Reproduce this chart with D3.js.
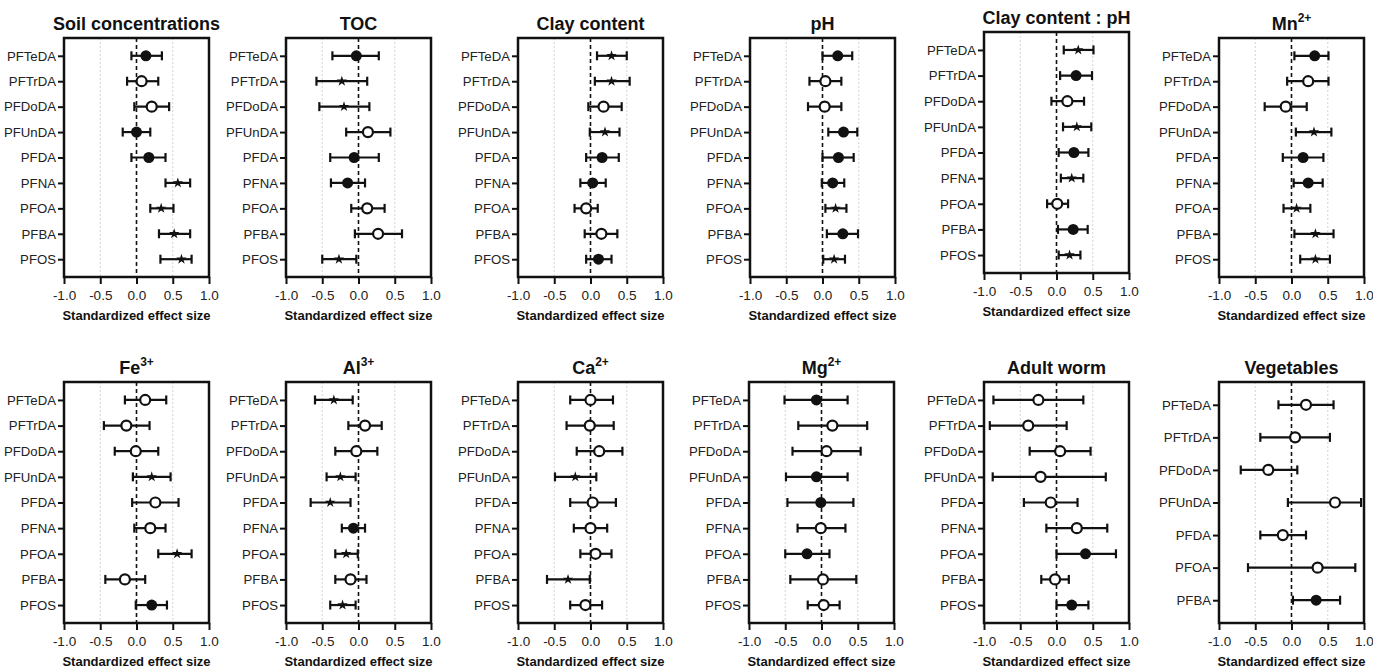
<!DOCTYPE html>
<html><head><meta charset="utf-8">
<script src="https://cdn.jsdelivr.net/npm/d3@7"></script>
<style>body{margin:0;background:#fff} svg{display:block}</style>
</head><body><svg id="c" width="1373" height="669"></svg>
<script>
// ---------- DATA ----------
const compounds = ["PFTeDA","PFTrDA","PFDoDA","PFUnDA","PFDA","PFNA","PFOA","PFBA","PFOS"];
const vegCompounds = ["PFTeDA","PFTrDA","PFDoDA","PFUnDA","PFDA","PFOA","PFBA"];
const xTicks = [-1.0, -0.5, 0.0, 0.5, 1.0];
const xLabel = "Standardized effect size";
// marker codes: F = filled circle, O = open circle, S = star

const soilMean  = [0.13, 0.07, 0.21, 0.00, 0.17, 0.57, 0.34, 0.52, 0.62];
const soilLower = [-0.07,-0.13,-0.03,-0.19,-0.07, 0.40, 0.19, 0.31, 0.33];
const soilUpper = [0.35, 0.30, 0.45, 0.19, 0.40, 0.74, 0.51, 0.74, 0.76];
const soilMarker= ["F","O","O","F","F","S","S","S","S"];

const tocMean  = [-0.03,-0.23,-0.20, 0.13,-0.06,-0.15, 0.12, 0.27,-0.27];
const tocLower = [-0.36,-0.58,-0.54,-0.17,-0.39,-0.38,-0.10,-0.05,-0.50];
const tocUpper = [0.28, 0.12, 0.15, 0.44, 0.28, 0.09, 0.36, 0.60,-0.03];
const tocMarker= ["F","S","S","O","F","F","O","O","S"];

const clayMean  = [0.29, 0.29, 0.18, 0.20, 0.16, 0.03,-0.06, 0.15, 0.11];
const clayLower = [0.09, 0.06,-0.03,-0.01,-0.06,-0.14,-0.22,-0.08,-0.06];
const clayUpper = [0.50, 0.54, 0.43, 0.40, 0.39, 0.21, 0.10, 0.37, 0.29];
const clayMarker= ["S","S","O","S","F","F","O","O","F"];

const phMean  = [0.21, 0.04, 0.03, 0.29, 0.22, 0.14, 0.18, 0.28, 0.16];
const phLower = [0.00,-0.18,-0.20, 0.08, 0.00,-0.01, 0.04, 0.06, 0.01];
const phUpper = [0.41, 0.26, 0.26, 0.48, 0.43, 0.30, 0.33, 0.49, 0.31];
const phMarker= ["F","O","O","F","F","F","S","F","S"];

const clayPhMean  = [0.30, 0.27, 0.15, 0.28, 0.24, 0.21, 0.01, 0.23, 0.18];
const clayPhLower = [0.10, 0.05,-0.07, 0.09, 0.03, 0.06,-0.13, 0.02, 0.03];
const clayPhUpper = [0.51, 0.49, 0.38, 0.48, 0.44, 0.37, 0.16, 0.43, 0.33];
const clayPhMarker= ["S","F","O","S","F","S","O","F","S"];

const mnMean  = [0.32, 0.23,-0.08, 0.31, 0.16, 0.23, 0.07, 0.33, 0.33];
const mnLower = [0.04,-0.06,-0.37, 0.06,-0.12, 0.03,-0.11, 0.04, 0.12];
const mnUpper = [0.51, 0.51, 0.21, 0.55, 0.44, 0.43, 0.26, 0.58, 0.53];
const mnMarker= ["F","O","O","S","F","F","S","S","S"];

const feMean  = [0.12,-0.14,-0.01, 0.21, 0.26, 0.19, 0.56,-0.16, 0.21];
const feLower = [-0.16,-0.45,-0.30,-0.05,-0.06,-0.03, 0.30,-0.43,-0.01];
const feUpper = [0.41, 0.18, 0.30, 0.47, 0.58, 0.40, 0.76, 0.12, 0.42];
const feMarker= ["O","O","O","S","O","O","S","O","F"];

const alMean  = [-0.34, 0.09,-0.03,-0.25,-0.39,-0.07,-0.17,-0.11,-0.22];
const alLower = [-0.60,-0.14,-0.32,-0.44,-0.66,-0.23,-0.32,-0.32,-0.39];
const alUpper = [-0.08, 0.32, 0.26,-0.04,-0.11, 0.09,-0.01, 0.11,-0.04];
const alMarker= ["S","O","O","S","S","F","S","O","S"];

const caMean  = [0.00,-0.01, 0.12,-0.21, 0.03, 0.00, 0.07,-0.31,-0.07];
const caLower = [-0.28,-0.33,-0.19,-0.49,-0.28,-0.23,-0.14,-0.60,-0.28];
const caUpper = [0.31, 0.32, 0.44, 0.08, 0.35, 0.23, 0.29,-0.01, 0.16];
const caMarker= ["O","O","O","S","O","O","O","S","O"];

const mgMean  = [-0.07, 0.15, 0.07,-0.07,-0.01,-0.01,-0.20, 0.02, 0.03];
const mgLower = [-0.51,-0.32,-0.40,-0.49,-0.47,-0.33,-0.50,-0.43,-0.19];
const mgUpper = [0.36, 0.63, 0.54, 0.36, 0.44, 0.33, 0.11, 0.48, 0.25];
const mgMarker= ["F","O","O","F","F","O","F","O","O"];

const wormMean  = [-0.25,-0.39, 0.05,-0.22,-0.08, 0.28, 0.40,-0.02, 0.21];
const wormLower = [-0.87,-0.92,-0.37,-0.88,-0.45,-0.14, 0.00,-0.21, 0.00];
const wormUpper = [0.37, 0.14, 0.47, 0.68, 0.29, 0.70, 0.82, 0.17, 0.44];
const wormMarker= ["O","O","O","O","O","O","F","O","F"];

const vegMean  = [0.20, 0.05,-0.32, 0.60,-0.12, 0.36, 0.34];
const vegLower = [-0.18,-0.43,-0.70,-0.05,-0.43,-0.60, 0.02];
const vegUpper = [0.58, 0.53, 0.08, 0.96, 0.20, 0.88, 0.67];
const vegMarker= ["O","O","O","O","O","O","F"];

const panels = [
  {title:"Soil concentrations", sup:"", cats:compounds, mean:soilMean, lower:soilLower, upper:soilUpper, marker:soilMarker},
  {title:"TOC", sup:"", cats:compounds, mean:tocMean, lower:tocLower, upper:tocUpper, marker:tocMarker},
  {title:"Clay content", sup:"", cats:compounds, mean:clayMean, lower:clayLower, upper:clayUpper, marker:clayMarker},
  {title:"pH", sup:"", cats:compounds, mean:phMean, lower:phLower, upper:phUpper, marker:phMarker},
  {title:"Clay content : pH", sup:"", cats:compounds, mean:clayPhMean, lower:clayPhLower, upper:clayPhUpper, marker:clayPhMarker},
  {title:"Mn", sup:"2+", cats:compounds, mean:mnMean, lower:mnLower, upper:mnUpper, marker:mnMarker},
  {title:"Fe", sup:"3+", cats:compounds, mean:feMean, lower:feLower, upper:feUpper, marker:feMarker},
  {title:"Al", sup:"3+", cats:compounds, mean:alMean, lower:alLower, upper:alUpper, marker:alMarker},
  {title:"Ca", sup:"2+", cats:compounds, mean:caMean, lower:caLower, upper:caUpper, marker:caMarker},
  {title:"Mg", sup:"2+", cats:compounds, mean:mgMean, lower:mgLower, upper:mgUpper, marker:mgMarker},
  {title:"Adult worm", sup:"", cats:compounds, mean:wormMean, lower:wormLower, upper:wormUpper, marker:wormMarker},
  {title:"Vegetables", sup:"", cats:vegCompounds, mean:vegMean, lower:vegLower, upper:vegUpper, marker:vegMarker}
];

// ---------- LAYOUT ----------
const lefts = [64, 286, 518, 750, 984, 1219, 64, 286, 518, 749, 984, 1219];
const boxW = 145;
const boxes = lefts.map((l, i) => {
  if (i < 6) return i === 4 ? {l, t:32, b:273} : {l, t:38, b:277};
  return {l, t:382, b:623};
});
const FONT = "'Liberation Sans', Arial, Helvetica, sans-serif";
const svg = d3.select("#c").attr("font-family", FONT);

panels.forEach((p, i) => {
  const bx = boxes[i];
  const x = d3.scaleLinear().domain([-1, 1]).range([bx.l, bx.l + boxW]);
  const y = d3.scalePoint().domain(p.cats).range([bx.t, bx.b]).padding(0.7);
  const g = svg.append("g");

  // light grid at ±0.5
  g.selectAll("line.grid").data([-0.5, 0.5]).join("line")
    .attr("x1", d => x(d)).attr("x2", d => x(d))
    .attr("y1", bx.t).attr("y2", bx.b)
    .attr("stroke", "#d4d4d4").attr("stroke-width", 1).attr("stroke-dasharray", "2,2");

  // zero dashed line
  g.append("line").attr("x1", x(0)).attr("x2", x(0)).attr("y1", bx.t).attr("y2", bx.b)
    .attr("stroke", "#111").attr("stroke-width", 1.6).attr("stroke-dasharray", "4,3");

  const rows = p.cats.map((c, k) => ({c, m:p.mean[k], lo:p.lower[k], hi:p.upper[k], mk:p.marker[k]}));

  // error bars
  const eb = g.selectAll("g.eb").data(rows).join("g");
  eb.append("line").attr("x1", d => x(d.lo)).attr("x2", d => x(d.hi))
    .attr("y1", d => y(d.c)).attr("y2", d => y(d.c))
    .attr("stroke", "#111").attr("stroke-width", 2.2);
  eb.append("line").attr("x1", d => x(d.lo)).attr("x2", d => x(d.lo))
    .attr("y1", d => y(d.c) - 4.5).attr("y2", d => y(d.c) + 4.5)
    .attr("stroke", "#111").attr("stroke-width", 2.2);
  eb.append("line").attr("x1", d => x(d.hi)).attr("x2", d => x(d.hi))
    .attr("y1", d => y(d.c) - 4.5).attr("y2", d => y(d.c) + 4.5)
    .attr("stroke", "#111").attr("stroke-width", 2.2);

  // markers
  eb.filter(d => d.mk === "F").append("circle")
    .attr("cx", d => x(d.m)).attr("cy", d => y(d.c)).attr("r", 5.5).attr("fill", "#111");
  eb.filter(d => d.mk === "O").append("circle")
    .attr("cx", d => x(d.m)).attr("cy", d => y(d.c)).attr("r", 5)
    .attr("fill", "#fff").attr("stroke", "#111").attr("stroke-width", 2.2);
  eb.filter(d => d.mk === "S").append("path")
    .attr("d", d3.symbol().type(d3.symbolStar).size(34))
    .attr("transform", d => `translate(${x(d.m)},${y(d.c)})`).attr("fill", "#111");

  // x axis
  const xa = g.append("g").attr("transform", `translate(0,${bx.b})`)
    .call(d3.axisBottom(x).tickValues(xTicks).tickFormat(d => d.toFixed(1)).tickSize(7).tickPadding(6));
  xa.select(".domain").remove();
  xa.selectAll(".tick line").attr("stroke", "#111").attr("stroke-width", 2);
  xa.selectAll(".tick text").attr("font-size", 13.5).attr("font-family", FONT).attr("fill", "#222");

  // y axis
  const ya = g.append("g").attr("transform", `translate(${bx.l},0)`)
    .call(d3.axisLeft(y).tickSize(6).tickPadding(2));
  ya.select(".domain").remove();
  ya.selectAll(".tick line").attr("stroke", "#111").attr("stroke-width", 2);
  ya.selectAll(".tick text").attr("font-size", 13.2).attr("font-family", FONT).attr("fill", "#222");

  // frame
  g.append("rect").attr("x", bx.l).attr("y", bx.t).attr("width", boxW).attr("height", bx.b - bx.t)
    .attr("fill", "none").attr("stroke", "#111").attr("stroke-width", 2.5);

  // title
  const tt = g.append("text").attr("x", bx.l + boxW / 2).attr("y", bx.t - 8)
    .attr("text-anchor", "middle").attr("font-size", 18).attr("font-weight", "bold").attr("fill", "#111");
  tt.append("tspan").text(p.title);
  if (p.sup) tt.append("tspan").attr("font-size", 12).attr("dy", -8).text(p.sup);

  // x label
  g.append("text").attr("x", bx.l + boxW / 2).attr("y", bx.b + 43)
    .attr("text-anchor", "middle").attr("font-size", 13).attr("font-weight", "bold").attr("fill", "#111")
    .text(xLabel);
});
</script></body></html>
